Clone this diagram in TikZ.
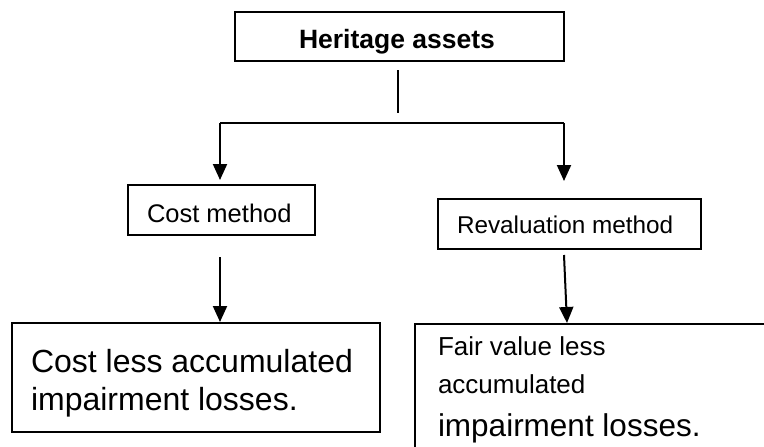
\documentclass[tikz,border=0pt]{standalone}
\usepackage{fontspec}
\setmainfont{Liberation Sans}
\usetikzlibrary{arrows.meta}
\begin{document}
\begin{tikzpicture}[x=1pt,y=-1pt,
  boxstyle/.style={draw=black,line width=1.5pt,anchor=north west,inner sep=0pt,outer sep=0pt},
  txt/.style={anchor=base west,inner sep=0pt,outer sep=0pt},
  conn/.style={line width=2pt},
  arr/.style={line width=2pt,-{Triangle[width=14pt,length=16pt]}}]
\useasboundingbox (0,0) rectangle (764,447);
% boxes
\node[boxstyle,minimum width=329pt,minimum height=49pt] (her) at (235,12) {};
\node[boxstyle,minimum width=187pt,minimum height=50pt] (cm) at (128,185) {};
\node[boxstyle,minimum width=263pt,minimum height=50pt] (rm) at (438,199) {};
\node[boxstyle,minimum width=368pt,minimum height=109pt] (cb) at (12,323) {};
% open box on the right
\coordinate (rb) at (415,324);
\draw[line width=1.5pt] (415,447) -- (rb) -- (764,324);
% texts
\node[txt] (t1) at (299,48) {\fontsize{26.5}{30}\selectfont\bfseries Heritage assets};
\node[txt] (t2) at (147,222) {\fontsize{25.5}{30}\selectfont Cost method};
\node[txt] (t3) at (457,233) {\fontsize{24.3}{29}\selectfont Revaluation method};
\node[txt] (t4) at (31,372) {\fontsize{32}{36}\selectfont Cost less accumulated};
\node[txt] (t5) at (31,410) {\fontsize{32}{36}\selectfont impairment losses.};
\node[txt] (t6) at (438,355) {\fontsize{26}{30}\selectfont Fair value less};
\node[txt] (t7) at (438,393) {\fontsize{26}{30}\selectfont accumulated};
\node[txt] (t8) at (438,436) {\fontsize{31.5}{36}\selectfont impairment losses.};
% connectors
\coordinate (v1) at (398,70);
\coordinate (v2) at (398,113);
\draw[conn] (v1) -- (v2);
\coordinate (hl) at (220,123);
\coordinate (hr) at (564,123);
\coordinate (al) at (220,180);
\coordinate (ar) at (564,181);
\draw[conn] (al |- hl) -- (hr);
\draw[arr] (hl) -- (al);
\draw[arr] (hr) -- (ar);
\coordinate (c1) at (220,257);
\draw[arr] (c1) -- (220,322);
\coordinate (r1) at (564,255);
\draw[arr] (r1) -- (567,323);
\end{tikzpicture}
\end{document}
